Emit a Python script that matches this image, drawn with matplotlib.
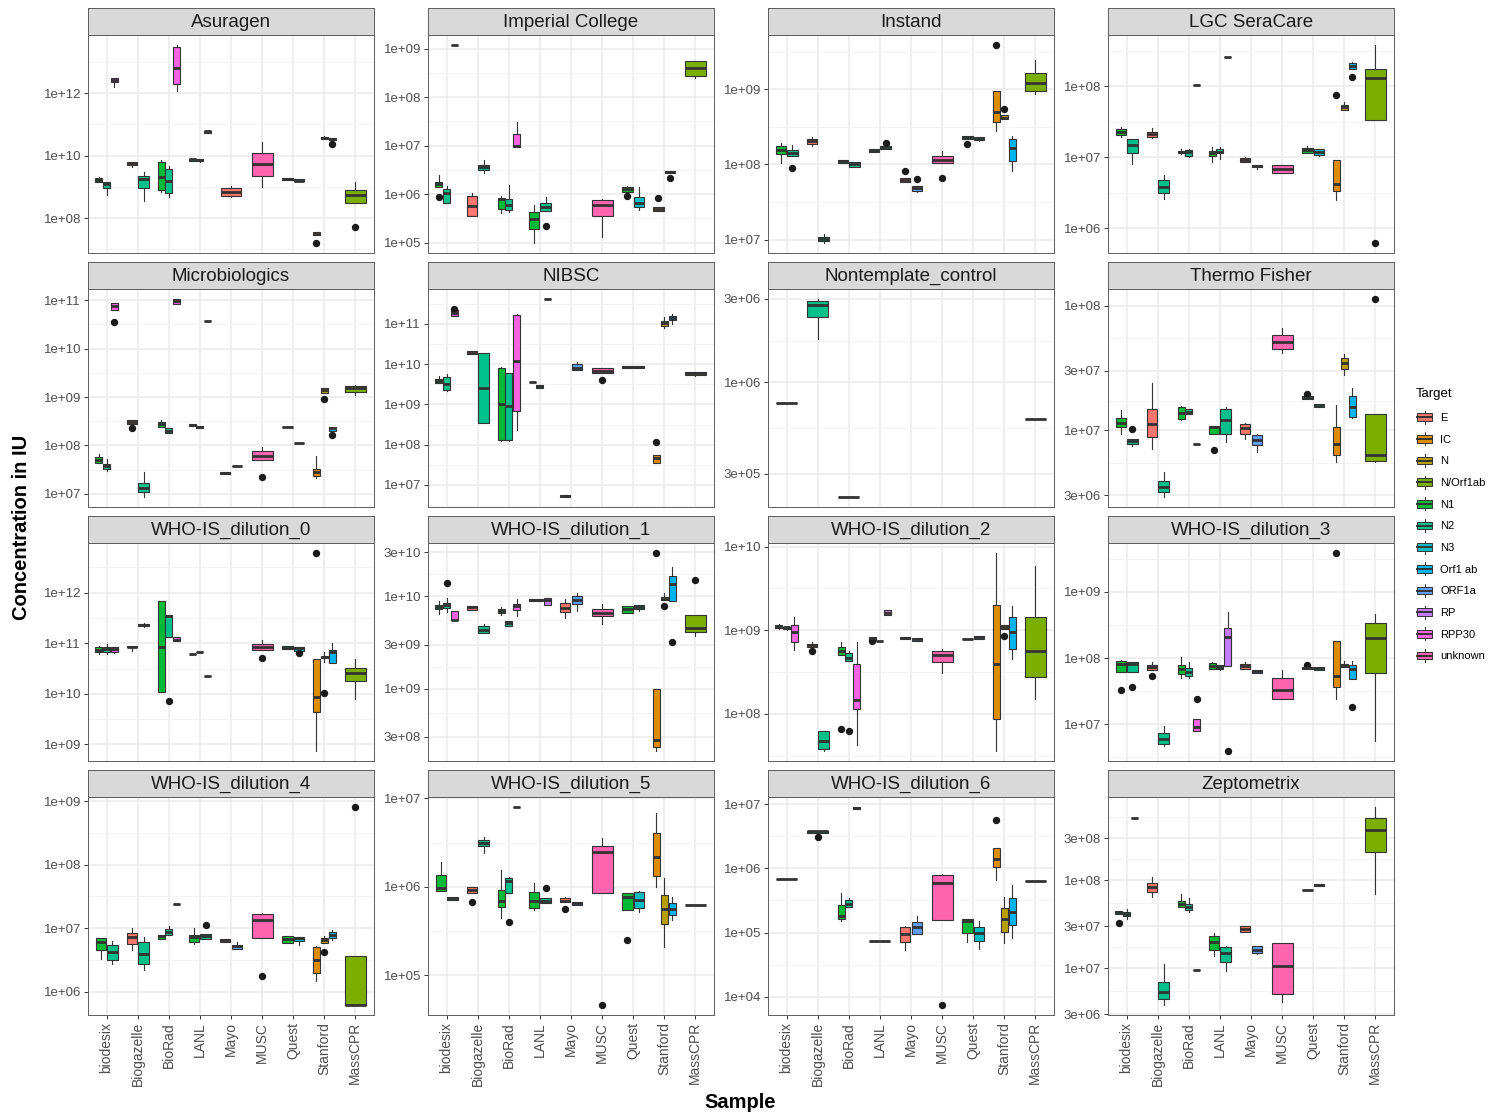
import numpy as np
import matplotlib
matplotlib.use("Agg")
import matplotlib.pyplot as plt
from matplotlib.patches import Rectangle, Patch
from matplotlib.lines import Line2D
from matplotlib.legend_handler import HandlerBase
from matplotlib.ticker import NullFormatter

plt.rcParams['font.family'] = ['Liberation Sans', 'DejaVu Sans']

SAMPLES = ["biodesix", "Biogazelle", "BioRad", "LANL", "Mayo", "MUSC", "Quest", "Stanford", "MassCPR"]
TARGETS = ["E", "IC", "N", "N/Orf1ab", "N1", "N2", "N3", "Orf1 ab", "ORF1a", "RP", "RPP30", "unknown"]
TARGET_COLORS = ["#F8766D", "#DE8C00", "#B79F00", "#7CAE00", "#00BA38", "#00C08B",
                 "#00BFC4", "#00B4F0", "#619CFF", "#C77CFF", "#F564E3", "#FF64B0"]

PANEL_TITLES = ["Asuragen", "Imperial College", "Instand", "LGC SeraCare",
                "Microbiologics", "NIBSC", "Nontemplate_control", "Thermo Fisher",
                "WHO-IS_dilution_0", "WHO-IS_dilution_1", "WHO-IS_dilution_2", "WHO-IS_dilution_3",
                "WHO-IS_dilution_4", "WHO-IS_dilution_5", "WHO-IS_dilution_6", "Zeptometrix"]

PANEL_TICKS = [
    [1e8, 1e10, 1e12],
    [1e5, 1e6, 1e7, 1e8, 1e9],
    [1e7, 1e8, 1e9],
    [1e6, 1e7, 1e8],
    [1e7, 1e8, 1e9, 1e10, 1e11],
    [1e7, 1e8, 1e9, 1e10, 1e11],
    [3e5, 1e6, 3e6],
    [3e6, 1e7, 3e7, 1e8],
    [1e9, 1e10, 1e11, 1e12],
    [3e8, 1e9, 3e9, 1e10, 3e10],
    [1e8, 1e9, 1e10],
    [1e7, 1e8, 1e9],
    [1e6, 1e7, 1e8, 1e9],
    [1e5, 1e6, 1e7],
    [1e4, 1e5, 1e6, 1e7],
    [3e6, 1e7, 3e7, 1e8, 3e8],
]

# (sample, target, whisker_low, q1, median, q3, whisker_high, outliers)
ASURAGEN = [
    ("biodesix", "N1", 1.48e9, 1.48e9, 1.7e9, 1.95e9, 2.1e9, []),
    ("biodesix", "N2", 5.5e8, 9.5e8, 1.26e9, 1.48e9, 1.48e9, []),
    ("biodesix", "RPP30", 1.6e12, 2.2e12, 2.6e12, 3.1e12, 3.1e12, []),
    ("Biogazelle", "E", 4.3e9, 5.1e9, 5.7e9, 6.2e9, 6.2e9, []),
    ("Biogazelle", "N2", 3.5e8, 9.3e8, 1.8e9, 2.3e9, 2.9e9, []),
    ("BioRad", "N1", 6.7e8, 8.2e8, 2.1e9, 6.1e9, 7.4e9, []),
    ("BioRad", "N2", 4.7e8, 6.3e8, 1.6e9, 3.7e9, 4.6e9, []),
    ("BioRad", "RPP30", 1.2e12, 1.9e12, 6.6e12, 3.1e13, 3.5e13, []),
    ("LANL", "N1", 6.9e9, 6.9e9, 7.6e9, 8.1e9, 8.1e9, []),
    ("LANL", "N2", 6.5e9, 6.9e9, 7.2e9, 8.1e9, 8.1e9, []),
    ("LANL", "RP", 5.5e10, 5.5e10, 6e10, 6.3e10, 6.3e10, []),
    ("Mayo", "E", 4.6e8, 5e8, 7e8, 9.1e8, 1.1e9, []),
    ("MUSC", "unknown", 1e9, 2.3e9, 5.4e9, 1.2e10, 2.7e10, []),
    ("Quest", "N1", 1.67e9, 1.67e9, 1.85e9, 2e9, 2e9, []),
    ("Quest", "N3", 1.5e9, 1.5e9, 1.6e9, 1.8e9, 1.8e9, []),
    ("Stanford", "IC", 2.8e7, 2.8e7, 3.2e7, 3.5e7, 3.5e7, [1.6e7]),
    ("Stanford", "N", 3.4e10, 3.4e10, 3.7e10, 4e10, 4.2e10, []),
    ("Stanford", "Orf1 ab", 3.1e10, 3.1e10, 3.4e10, 3.6e10, 3.6e10, [2.4e10]),
    ("MassCPR", "N/Orf1ab", 3e8, 3e8, 5.5e8, 7.9e8, 1.4e9, [5.4e7]),
]

IMPERIAL = [
    ("biodesix", "N1", 1.4e6, 1.4e6, 1.6e6, 1.8e6, 2.5e6, [8.9e5]),
    ("biodesix", "N2", 6.7e5, 6.7e5, 1.05e6, 1.3e6, 1.45e6, []),
    ("biodesix", "RPP30", 1.2e9, 1.2e9, 1.2e9, 1.2e9, 1.2e9, []),
    ("Biogazelle", "E", 3.6e5, 3.6e5, 5.8e5, 9.1e5, 1.07e6, []),
    ("Biogazelle", "N2", 2.7e6, 3.2e6, 3.6e6, 4e6, 5.1e6, []),
    ("BioRad", "N1", 4.1e5, 4.9e5, 7.8e5, 8.5e5, 9.1e5, []),
    ("BioRad", "N2", 4.3e5, 4.7e5, 6e5, 7.9e5, 1.55e6, []),
    ("BioRad", "RPP30", 9.6e6, 9.6e6, 9.8e6, 1.74e7, 3.1e7, []),
    ("LANL", "N1", 9.8e4, 1.9e5, 3.1e5, 4.2e5, 6e5, []),
    ("LANL", "N2", 4.5e5, 4.5e5, 5.5e5, 6.5e5, 8.9e5, [2.2e5]),
    ("MUSC", "unknown", 1.3e5, 3.5e5, 6e5, 7.6e5, 8e5, []),
    ("Quest", "N1", 1.13e6, 1.13e6, 1.26e6, 1.38e6, 1.5e6, [9e5]),
    ("Quest", "N3", 4.7e5, 5.4e5, 6.7e5, 8.7e5, 1.4e6, []),
    ("Stanford", "IC", 4.4e5, 4.4e5, 5e5, 5.5e5, 5.5e5, [8.2e5]),
    ("Stanford", "N", 2.7e6, 2.7e6, 2.9e6, 3e6, 3e6, [2.2e6]),
    ("MassCPR", "N/Orf1ab", 2.5e8, 2.8e8, 4e8, 5.5e8, 5.5e8, []),
]

INSTAND = [
    ("biodesix", "N1", 1.05e8, 1.37e8, 1.56e8, 1.78e8, 1.96e8, []),
    ("biodesix", "N2", 1.3e8, 1.3e8, 1.44e8, 1.56e8, 1.8e8, [9e7]),
    ("Biogazelle", "E", 1.75e8, 1.86e8, 2.05e8, 2.2e8, 2.3e8, []),
    ("Biogazelle", "N2", 9e6, 9.6e6, 1.02e7, 1.1e7, 1.18e7, []),
    ("BioRad", "N1", 1.04e8, 1.04e8, 1.1e8, 1.15e8, 1.15e8, []),
    ("BioRad", "N2", 9.2e7, 9.2e7, 1e8, 1.07e8, 1.07e8, []),
    ("LANL", "N1", 1.48e8, 1.48e8, 1.53e8, 1.6e8, 1.6e8, []),
    ("LANL", "N2", 1.6e8, 1.6e8, 1.68e8, 1.78e8, 1.78e8, [1.96e8]),
    ("Mayo", "E", 5.9e7, 5.9e7, 6.3e7, 6.7e7, 6.7e7, [8.2e7]),
    ("Mayo", "ORF1a", 4.3e7, 4.5e7, 4.9e7, 5.2e7, 5.2e7, [6.4e7]),
    ("MUSC", "unknown", 1.05e8, 1.05e8, 1.15e8, 1.31e8, 1.49e8, [6.6e7]),
    ("Quest", "N1", 2.2e8, 2.2e8, 2.35e8, 2.4e8, 2.4e8, [1.88e8]),
    ("Quest", "N3", 2.05e8, 2.1e8, 2.2e8, 2.3e8, 2.3e8, []),
    ("Stanford", "IC", 2.75e8, 3.7e8, 5e8, 9.6e8, 9.6e8, [3.9e9]),
    ("Stanford", "N", 4e8, 4e8, 4.2e8, 4.6e8, 4.6e8, [5.4e8]),
    ("Stanford", "Orf1 ab", 8.1e7, 1.1e8, 1.65e8, 2.2e8, 2.4e8, []),
    ("MassCPR", "N/Orf1ab", 8.6e8, 9.6e8, 1.2e9, 1.66e9, 2.45e9, []),
]

LGC_SERACARE = [
    ("biodesix", "N1", 1.95e7, 2.05e7, 2.3e7, 2.5e7, 2.65e7, []),
    ("biodesix", "N2", 8e6, 1.14e7, 1.48e7, 1.8e7, 1.8e7, []),
    ("Biogazelle", "E", 1.85e7, 1.9e7, 2.1e7, 2.3e7, 2.6e7, []),
    ("Biogazelle", "N2", 2.6e6, 3.1e6, 3.8e6, 4.8e6, 5.6e6, []),
    ("BioRad", "N1", 1.1e7, 1.14e7, 1.18e7, 1.23e7, 1.3e7, []),
    ("BioRad", "N2", 1e7, 1.05e7, 1.18e7, 1.26e7, 1.32e7, []),
    ("BioRad", "RPP30", 1.05e8, 1.05e8, 1.05e8, 1.05e8, 1.05e8, []),
    ("LANL", "N1", 8.7e6, 1.05e7, 1.14e7, 1.23e7, 1.38e7, []),
    ("LANL", "N2", 9.5e6, 1.14e7, 1.2e7, 1.29e7, 1.38e7, []),
    ("LANL", "RP", 2.6e8, 2.6e8, 2.6e8, 2.6e8, 2.6e8, []),
    ("Mayo", "E", 8.7e6, 8.7e6, 9.2e6, 9.7e6, 1.02e7, []),
    ("Mayo", "ORF1a", 6.8e6, 7.2e6, 7.6e6, 7.9e6, 7.9e6, []),
    ("MUSC", "unknown", 6e6, 6e6, 6.8e6, 7.8e6, 7.8e6, []),
    ("Quest", "N1", 1.14e7, 1.14e7, 1.26e7, 1.37e7, 1.45e7, []),
    ("Quest", "N3", 1.05e7, 1.07e7, 1.2e7, 1.32e7, 1.32e7, []),
    ("Stanford", "IC", 2.5e6, 3.3e6, 4.2e6, 9.1e6, 9.1e6, [7.5e7]),
    ("Stanford", "N", 4.6e7, 4.6e7, 5.1e7, 5.5e7, 5.9e7, []),
    ("Stanford", "Orf1 ab", 1.77e8, 1.77e8, 1.9e8, 2.1e8, 2.2e8, [1.34e8]),
    ("MassCPR", "N/Orf1ab", 3.3e7, 3.3e7, 1.31e8, 1.77e8, 3.8e8, [6.2e5]),
]

MICROBIOLOGICS = [
    ("biodesix", "N1", 4.4e7, 4.4e7, 5e7, 5.7e7, 6.7e7, []),
    ("biodesix", "N2", 3e7, 3.2e7, 3.7e7, 4.2e7, 5.2e7, []),
    ("biodesix", "RPP30", 6.4e10, 6.4e10, 7.5e10, 8.8e10, 8.8e10, [3.5e10]),
    ("Biogazelle", "E", 2.7e8, 2.7e8, 3e8, 3.3e8, 3.3e8, [2.3e8]),
    ("Biogazelle", "N2", 8.5e6, 1.07e7, 1.3e7, 1.67e7, 2.8e7, []),
    ("BioRad", "N1", 2.45e8, 2.45e8, 2.7e8, 3e8, 3.3e8, []),
    ("BioRad", "N2", 1.8e8, 1.8e8, 2e8, 2.3e8, 2.3e8, []),
    ("BioRad", "RPP30", 8.5e10, 8.5e10, 9.5e10, 1.07e11, 1.07e11, []),
    ("LANL", "N1", 2.5e8, 2.5e8, 2.6e8, 2.8e8, 2.8e8, []),
    ("LANL", "N2", 2.3e8, 2.3e8, 2.4e8, 2.5e8, 2.5e8, []),
    ("LANL", "RP", 3.7e10, 3.7e10, 3.7e10, 3.7e10, 3.7e10, []),
    ("Mayo", "E", 2.5e7, 2.5e7, 2.7e7, 2.8e7, 2.8e7, []),
    ("Mayo", "ORF1a", 3.8e7, 3.8e7, 3.8e7, 3.8e7, 3.8e7, []),
    ("MUSC", "unknown", 4.9e7, 4.9e7, 6.1e7, 7.5e7, 9.3e7, [2.2e7]),
    ("Quest", "N1", 2.4e8, 2.4e8, 2.4e8, 2.4e8, 2.4e8, []),
    ("Quest", "N3", 1.12e8, 1.12e8, 1.12e8, 1.12e8, 1.12e8, []),
    ("Stanford", "IC", 2.1e7, 2.3e7, 2.8e7, 3.3e7, 5.9e7, []),
    ("Stanford", "N", 1.2e9, 1.2e9, 1.38e9, 1.5e9, 1.5e9, [9.3e8]),
    ("Stanford", "Orf1 ab", 2e8, 2e8, 2.3e8, 2.4e8, 2.4e8, [1.66e8]),
    ("MassCPR", "N/Orf1ab", 1.1e9, 1.26e9, 1.5e9, 1.66e9, 1.75e9, []),
]

NIBSC = [
    ("biodesix", "N1", 3.5e9, 3.5e9, 3.9e9, 4.3e9, 5e9, []),
    ("biodesix", "N2", 2.2e9, 2.3e9, 3.2e9, 4.7e9, 5.7e9, []),
    ("biodesix", "RPP30", 1.6e11, 1.6e11, 1.85e11, 2.2e11, 2.2e11, [2.4e11]),
    ("Biogazelle", "E", 1.75e10, 1.75e10, 1.9e10, 2.1e10, 2.1e10, []),
    ("Biogazelle", "N2", 3.5e8, 3.5e8, 2.6e9, 1.9e10, 1.9e10, []),
    ("BioRad", "N1", 1.25e8, 1.34e8, 1.05e9, 8.1e9, 8.3e9, []),
    ("BioRad", "N2", 1.25e8, 1.3e8, 9e8, 5.9e9, 5.9e9, []),
    ("BioRad", "RPP30", 2.3e8, 7e8, 1.17e10, 1.7e11, 1.75e11, []),
    ("LANL", "N1", 3.7e9, 3.7e9, 3.7e9, 3.7e9, 3.7e9, []),
    ("LANL", "N2", 2.6e9, 2.6e9, 2.8e9, 3.1e9, 3.1e9, []),
    ("LANL", "RP", 4.2e11, 4.2e11, 4.2e11, 4.2e11, 4.2e11, []),
    ("Mayo", "E", 5e6, 5e6, 5.2e6, 5.5e6, 5.5e6, []),
    ("Mayo", "ORF1a", 7.4e9, 7.4e9, 8.1e9, 1e10, 1.15e10, []),
    ("MUSC", "unknown", 6e9, 6e9, 6.9e9, 7.9e9, 7.9e9, [4.1e9]),
    ("Quest", "N1", 7.9e9, 7.9e9, 8.6e9, 9.3e9, 9.3e9, []),
    ("Quest", "N3", 8e9, 8e9, 8.6e9, 9.3e9, 9.3e9, []),
    ("Stanford", "IC", 3.6e7, 3.6e7, 4.7e7, 5.5e7, 5.5e7, [1.2e8]),
    ("Stanford", "N", 7.8e10, 8.9e10, 1.04e11, 1.2e11, 1.45e11, []),
    ("Stanford", "Orf1 ab", 1e11, 1.26e11, 1.44e11, 1.6e11, 1.8e11, []),
    ("MassCPR", "N/Orf1ab", 5e9, 5.5e9, 6e9, 6.6e9, 6.6e9, []),
]

NONTEMPLATE_CONTROL = [
    ("biodesix", "N1", 7.6e5, 7.6e5, 7.6e5, 7.6e5, 7.6e5, []),
    ("Biogazelle", "N2", 1.78e6, 2.37e6, 2.77e6, 2.9e6, 3e6, []),
    ("BioRad", "N1", 2.2e5, 2.2e5, 2.2e5, 2.2e5, 2.2e5, []),
    ("MassCPR", "N/Orf1ab", 6.2e5, 6.2e5, 6.2e5, 6.2e5, 6.2e5, []),
]

THERMO_FISHER = [
    ("biodesix", "N1", 9.4e6, 1.07e7, 1.15e7, 1.26e7, 1.45e7, []),
    ("biodesix", "N2", 7.5e6, 7.8e6, 8.2e6, 8.5e6, 8.5e6, [1.02e7]),
    ("Biogazelle", "E", 7.1e6, 8.9e6, 1.12e7, 1.48e7, 2.4e7, []),
    ("Biogazelle", "N2", 2.9e6, 3.2e6, 3.5e6, 3.9e6, 4.6e6, []),
    ("BioRad", "N1", 1.2e7, 1.23e7, 1.38e7, 1.54e7, 1.58e7, []),
    ("BioRad", "N2", 1.35e7, 1.35e7, 1.4e7, 1.48e7, 1.48e7, []),
    ("BioRad", "RPP30", 7.8e6, 7.8e6, 7.8e6, 7.8e6, 7.8e6, []),
    ("LANL", "N1", 9.3e6, 9.3e6, 1.07e7, 1.08e7, 1.08e7, [7e6]),
    ("LANL", "N2", 8.1e6, 9.4e6, 1.2e7, 1.48e7, 1.55e7, []),
    ("Mayo", "E", 8.5e6, 9.4e6, 1.05e7, 1.12e7, 1.15e7, []),
    ("Mayo", "ORF1a", 6.7e6, 7.6e6, 8.3e6, 9.1e6, 9.3e6, []),
    ("MUSC", "unknown", 4.2e7, 4.5e7, 5.1e7, 5.8e7, 6.7e7, []),
    ("Quest", "N1", 1.78e7, 1.78e7, 1.82e7, 1.87e7, 1.87e7, [1.95e7]),
    ("Quest", "N3", 1.55e7, 1.55e7, 1.58e7, 1.62e7, 1.62e7, []),
    ("Stanford", "IC", 5.6e6, 6.3e6, 7.8e6, 1.07e7, 1.6e7, []),
    ("Stanford", "N", 2.8e7, 3.1e7, 3.5e7, 3.8e7, 4.1e7, []),
    ("Stanford", "Orf1 ab", 1.25e7, 1.28e7, 1.54e7, 1.9e7, 2.2e7, []),
    ("MassCPR", "N/Orf1ab", 5.6e6, 5.7e6, 6.3e6, 1.35e7, 1.35e7, [1.14e8]),
]

WHO_IS_0 = [
    ("biodesix", "N1", 6e10, 6.6e10, 7.4e10, 8.3e10, 9e10, []),
    ("biodesix", "N2", 6e10, 6.8e10, 7.7e10, 8.6e10, 9.5e10, []),
    ("biodesix", "RPP30", 6.5e10, 6.8e10, 7.6e10, 8.3e10, 8.3e10, []),
    ("Biogazelle", "E", 7.1e10, 8.3e10, 8.6e10, 8.9e10, 8.9e10, []),
    ("Biogazelle", "N2", 2.1e11, 2.15e11, 2.25e11, 2.35e11, 2.5e11, []),
    ("BioRad", "N1", 1.1e10, 1.1e10, 8.6e10, 6.7e11, 6.7e11, []),
    ("BioRad", "N2", 1.3e11, 1.3e11, 3.4e11, 3.6e11, 3.6e11, [7.2e9]),
    ("BioRad", "RPP30", 1.12e11, 1.12e11, 1.17e11, 1.3e11, 1.3e11, []),
    ("LANL", "N1", 6.2e10, 6.2e10, 6.2e10, 6.2e10, 6.2e10, []),
    ("LANL", "N2", 6.6e10, 6.6e10, 6.6e10, 6.6e10, 6.6e10, []),
    ("LANL", "RP", 2.3e10, 2.3e10, 2.3e10, 2.3e10, 2.3e10, []),
    ("MUSC", "unknown", 7.4e10, 7.4e10, 8.3e10, 9.6e10, 1.17e11, [5e10]),
    ("Quest", "N1", 7.7e10, 7.7e10, 8.2e10, 8.7e10, 8.7e10, []),
    ("Quest", "N3", 7.1e10, 7.1e10, 7.9e10, 8.3e10, 8.3e10, [6.3e10]),
    ("Stanford", "IC", 7.4e8, 4.4e9, 8.7e9, 4.8e10, 4.8e10, [6.1e12]),
    ("Stanford", "N", 4.3e10, 5e10, 5.3e10, 5.7e10, 6.6e10, [1.05e10]),
    ("Stanford", "Orf1 ab", 4.1e10, 4.1e10, 6.7e10, 7.4e10, 1e11, []),
    ("MassCPR", "N/Orf1ab", 7.8e9, 1.8e10, 2.6e10, 3.3e10, 4.8e10, []),
]

WHO_IS_1 = [
    ("biodesix", "N1", 6.4e9, 7.3e9, 7.6e9, 8.1e9, 8.8e9, []),
    ("biodesix", "N2", 6.8e9, 7.4e9, 8e9, 8.5e9, 9.5e9, [1.4e10]),
    ("biodesix", "RPP30", 5.5e9, 5.5e9, 5.6e9, 7e9, 7e9, []),
    ("Biogazelle", "E", 7.1e9, 7.1e9, 7.6e9, 7.9e9, 7.9e9, []),
    ("Biogazelle", "N2", 4e9, 4e9, 4.3e9, 4.8e9, 5e9, []),
    ("BioRad", "N1", 6.3e9, 6.6e9, 7e9, 7.3e9, 7.7e9, []),
    ("BioRad", "N2", 4.8e9, 4.8e9, 5.1e9, 5.4e9, 5.4e9, []),
    ("BioRad", "RPP30", 6.2e9, 7.1e9, 7.8e9, 8.2e9, 9.4e9, []),
    ("LANL", "N1", 8.8e9, 8.8e9, 9.1e9, 9.3e9, 9.3e9, []),
    ("LANL", "N2", 8.8e9, 8.8e9, 9.1e9, 9.3e9, 9.3e9, []),
    ("LANL", "RP", 8.1e9, 8.1e9, 9.1e9, 9.6e9, 9.6e9, []),
    ("Mayo", "E", 5.9e9, 6.7e9, 7.5e9, 8.5e9, 9.4e9, []),
    ("Mayo", "ORF1a", 7e9, 8.3e9, 9.2e9, 1e10, 1.1e10, []),
    ("MUSC", "unknown", 5e9, 6.1e9, 6.6e9, 7.3e9, 8.3e9, []),
    ("Quest", "N1", 6.6e9, 6.6e9, 7.3e9, 7.8e9, 7.8e9, []),
    ("Quest", "N3", 7e9, 7.3e9, 7.6e9, 8.1e9, 8.1e9, []),
    ("Stanford", "IC", 2.1e8, 2.3e8, 2.75e8, 1e9, 1e9, [2.96e10]),
    ("Stanford", "N", 9.1e9, 9.1e9, 9.4e9, 9.8e9, 1.08e10, [7.8e9]),
    ("Stanford", "Orf1 ab", 8.8e9, 8.8e9, 1.37e10, 1.65e10, 2.1e10, [3.2e9]),
    ("MassCPR", "N/Orf1ab", 3.7e9, 4.1e9, 4.5e9, 6.3e9, 6.3e9, [1.5e10]),
]

WHO_IS_2 = [
    ("biodesix", "N1", 1.03e9, 1.07e9, 1.1e9, 1.17e9, 1.2e9, []),
    ("biodesix", "N2", 1e9, 1.04e9, 1.08e9, 1.1e9, 1.1e9, []),
    ("biodesix", "RPP30", 5.8e8, 7.3e8, 9.5e8, 1.17e9, 1.44e9, []),
    ("Biogazelle", "E", 6.3e8, 6.3e8, 6.6e8, 6.9e8, 7.3e8, [5.7e8]),
    ("Biogazelle", "N2", 3.6e7, 3.8e7, 4.8e7, 6.2e7, 6.3e7, []),
    ("BioRad", "N1", 5e8, 5e8, 5.6e8, 6.3e8, 7.2e8, [6.6e7]),
    ("BioRad", "N2", 4.3e8, 4.3e8, 4.6e8, 5.3e8, 5.6e8, [6.3e7]),
    ("BioRad", "RPP30", 4.2e7, 1.15e8, 1.45e8, 4e8, 7.2e8, []),
    ("LANL", "N1", 7.7e8, 7.7e8, 8e8, 8.3e8, 8.3e8, [7.4e8]),
    ("LANL", "N2", 7.5e8, 7.5e8, 7.5e8, 7.5e8, 7.5e8, []),
    ("LANL", "RP", 1.54e9, 1.54e9, 1.63e9, 1.73e9, 1.73e9, []),
    ("Mayo", "E", 7.8e8, 7.8e8, 8e8, 8.2e8, 8.2e8, []),
    ("Mayo", "ORF1a", 7.5e8, 7.5e8, 7.8e8, 8e8, 8e8, []),
    ("MUSC", "unknown", 3.1e8, 4.2e8, 5e8, 5.6e8, 6e8, []),
    ("Quest", "N1", 7.8e8, 7.8e8, 7.8e8, 7.8e8, 7.8e8, []),
    ("Quest", "N3", 7.9e8, 7.9e8, 8.2e8, 8.5e8, 8.5e8, []),
    ("Stanford", "IC", 3.6e7, 8.7e7, 3.9e8, 2e9, 8.4e9, []),
    ("Stanford", "N", 1.04e9, 1.04e9, 1.1e9, 1.17e9, 1.17e9, [8.5e8]),
    ("Stanford", "Orf1 ab", 4.5e8, 5.9e8, 9.5e8, 1.44e9, 1.94e9, []),
    ("MassCPR", "N/Orf1ab", 1.5e8, 2.8e8, 5.6e8, 1.44e9, 5.8e9, []),
]

WHO_IS_3 = [
    ("biodesix", "N1", 6.2e7, 6.2e7, 8.1e7, 9.1e7, 9.4e7, [3.3e7]),
    ("biodesix", "N2", 6.2e7, 6.2e7, 8.1e7, 8.6e7, 8.6e7, [3.6e7]),
    ("Biogazelle", "E", 6.6e7, 6.6e7, 7.2e7, 7.9e7, 8.8e7, [5.4e7]),
    ("Biogazelle", "N2", 4.7e6, 5e6, 6e6, 7.3e6, 9.3e6, []),
    ("BioRad", "N1", 5e7, 5.8e7, 6.9e7, 7.8e7, 1.02e8, []),
    ("BioRad", "N2", 4.9e7, 5.4e7, 6.2e7, 7e7, 8.7e7, []),
    ("BioRad", "RPP30", 7.8e6, 7.8e6, 8.9e6, 1.2e7, 1.2e7, [2.4e7]),
    ("LANL", "N1", 6.9e7, 6.9e7, 7.6e7, 8.3e7, 8.6e7, []),
    ("LANL", "N2", 6.5e7, 6.8e7, 7.2e7, 7.8e7, 7.8e7, []),
    ("LANL", "RP", 7.5e7, 7.5e7, 2.1e8, 2.8e8, 5e8, [3.9e6]),
    ("Mayo", "E", 6.9e7, 6.9e7, 7.6e7, 8.2e7, 8.8e7, []),
    ("Mayo", "ORF1a", 5.9e7, 5.9e7, 6.3e7, 6.6e7, 6.6e7, []),
    ("MUSC", "unknown", 2.4e7, 2.4e7, 3.3e7, 4.9e7, 6.5e7, []),
    ("Quest", "N1", 6.8e7, 6.8e7, 7e7, 7.4e7, 7.4e7, [7.8e7]),
    ("Quest", "N3", 6.6e7, 6.6e7, 7e7, 7.2e7, 7.2e7, []),
    ("Stanford", "IC", 2.4e7, 3.6e7, 5.4e7, 1.8e8, 1.8e8, [3.9e9]),
    ("Stanford", "N", 7.2e7, 7.2e7, 7.6e7, 8.1e7, 9e7, []),
    ("Stanford", "Orf1 ab", 4.8e7, 4.8e7, 6.8e7, 7.8e7, 9e7, [1.8e7]),
    ("MassCPR", "N/Orf1ab", 5.6e6, 5.9e7, 2e8, 3.4e8, 4.6e8, []),
]

WHO_IS_4 = [
    ("biodesix", "N1", 3.3e6, 4.6e6, 6e6, 7.1e6, 7.1e6, []),
    ("biodesix", "N2", 2.7e6, 3.2e6, 4.2e6, 5.5e6, 6.3e6, []),
    ("Biogazelle", "E", 4.5e6, 5.6e6, 7.2e6, 8.3e6, 1.02e7, []),
    ("Biogazelle", "N2", 2.2e6, 2.7e6, 4e6, 6e6, 7.4e6, []),
    ("BioRad", "N1", 6.9e6, 6.9e6, 7.5e6, 7.9e6, 7.9e6, []),
    ("BioRad", "N2", 7.9e6, 7.9e6, 8.7e6, 9.6e6, 1.07e7, []),
    ("BioRad", "RPP30", 2.4e7, 2.4e7, 2.4e7, 2.4e7, 2.4e7, []),
    ("LANL", "N1", 5.6e6, 6e6, 7.2e6, 7.9e6, 1e7, []),
    ("LANL", "N2", 6.9e6, 6.9e6, 7.6e6, 8.2e6, 8.2e6, [1.12e7]),
    ("Mayo", "E", 6e6, 6e6, 6.5e6, 6.9e6, 6.9e6, []),
    ("Mayo", "ORF1a", 4.7e6, 4.7e6, 5.2e6, 5.5e6, 6e6, []),
    ("MUSC", "unknown", 7.1e6, 7.1e6, 1.35e7, 1.66e7, 1.75e7, [1.8e6]),
    ("Quest", "N1", 5.9e6, 5.9e6, 6.7e6, 7.6e6, 7.6e6, []),
    ("Quest", "N3", 5.5e6, 6.4e6, 7e6, 7.4e6, 7.4e6, []),
    ("Stanford", "IC", 1.5e6, 1.95e6, 3.2e6, 5e6, 5.2e6, []),
    ("Stanford", "N", 5.9e6, 5.9e6, 6.5e6, 7.1e6, 7.5e6, [4.3e6]),
    ("Stanford", "Orf1 ab", 6.5e6, 7.1e6, 7.9e6, 8.7e6, 9.3e6, []),
    ("MassCPR", "N/Orf1ab", 6.2e5, 6.2e5, 6.3e5, 3.7e6, 3.7e6, [8.1e8]),
]

WHO_IS_5 = [
    ("biodesix", "N1", 8.9e5, 8.9e5, 9.7e5, 1.35e6, 1.9e6, []),
    ("biodesix", "N2", 7.1e5, 7.1e5, 7.4e5, 7.7e5, 7.7e5, []),
    ("Biogazelle", "E", 8.4e5, 8.4e5, 9.3e5, 9.9e5, 9.9e5, [6.7e5]),
    ("Biogazelle", "N2", 2.4e6, 2.9e6, 3.1e6, 3.4e6, 3.7e6, []),
    ("BioRad", "N1", 4.4e5, 5.9e5, 6.9e5, 9.1e5, 1.55e6, []),
    ("BioRad", "N2", 8.4e5, 8.4e5, 1.17e6, 1.26e6, 1.3e6, [4e5]),
    ("BioRad", "RPP30", 8e6, 8e6, 8e6, 8e6, 8e6, []),
    ("LANL", "N1", 5.5e5, 5.8e5, 6.9e5, 8.7e5, 1.1e6, []),
    ("LANL", "N2", 6.5e5, 6.5e5, 6.9e5, 7.5e5, 7.5e5, [9.6e5]),
    ("Mayo", "E", 6.7e5, 6.7e5, 7e5, 7.4e5, 7.7e5, [5.6e5]),
    ("Mayo", "ORF1a", 6.2e5, 6.2e5, 6.5e5, 6.7e5, 6.7e5, []),
    ("MUSC", "unknown", 8.4e5, 8.4e5, 2.45e6, 2.9e6, 3.6e6, [4.6e4]),
    ("Quest", "N1", 5.5e5, 5.5e5, 7.6e5, 8.5e5, 8.5e5, [2.5e5]),
    ("Quest", "N3", 5.2e5, 5.7e5, 7.1e5, 8.7e5, 8.9e5, []),
    ("Stanford", "IC", 1e6, 1.32e6, 2.2e6, 4.1e6, 6.9e6, []),
    ("Stanford", "N", 2.1e5, 3.8e5, 5.6e5, 8e5, 1.26e6, []),
    ("Stanford", "Orf1 ab", 4.2e5, 4.8e5, 5.6e5, 6.6e5, 7.6e5, []),
    ("MassCPR", "N/Orf1ab", 6.2e5, 6.2e5, 6.2e5, 6.2e5, 6.2e5, []),
]

WHO_IS_6 = [
    ("biodesix", "N1", 6.9e5, 6.9e5, 6.9e5, 6.9e5, 6.9e5, []),
    ("Biogazelle", "N2", 3.6e6, 3.6e6, 3.8e6, 3.9e6, 3.9e6, [3.1e6]),
    ("BioRad", "N1", 1.5e5, 1.6e5, 1.8e5, 2.7e5, 4.1e5, []),
    ("BioRad", "N2", 2.5e5, 2.5e5, 2.8e5, 3.2e5, 3.5e5, []),
    ("BioRad", "RPP30", 8.3e6, 8.3e6, 8.7e6, 9.1e6, 9.1e6, []),
    ("LANL", "N1", 7.4e4, 7.4e4, 7.4e4, 7.4e4, 7.4e4, []),
    ("Mayo", "E", 5.4e4, 7.1e4, 9.5e4, 1.2e5, 1.25e5, []),
    ("Mayo", "ORF1a", 9.5e4, 9.5e4, 1.2e5, 1.44e5, 1.8e5, []),
    ("MUSC", "unknown", 1.58e5, 1.58e5, 5.9e5, 8e5, 8.3e5, [7.4e3]),
    ("Quest", "N1", 7e4, 1e5, 1.5e5, 1.6e5, 1.6e5, []),
    ("Quest", "N3", 5.6e4, 7.4e4, 1e5, 1.24e5, 1.5e5, []),
    ("Stanford", "IC", 6.6e5, 1.07e6, 1.38e6, 2.1e6, 2.1e6, [5.6e6]),
    ("Stanford", "N", 6.9e4, 1.02e5, 1.6e5, 2.4e5, 3.6e5, []),
    ("Stanford", "Orf1 ab", 8.1e4, 1.3e5, 2.1e5, 3.5e5, 5.5e5, []),
    ("MassCPR", "N/Orf1ab", 6.3e5, 6.3e5, 6.3e5, 6.3e5, 6.3e5, []),
]

ZEPTOMETRIX = [
    ("biodesix", "N1", 4.1e7, 4.1e7, 4.3e7, 4.45e7, 4.45e7, [3.3e7]),
    ("biodesix", "N2", 3.6e7, 3.9e7, 4.1e7, 4.4e7, 4.7e7, []),
    ("biodesix", "RPP30", 5.1e8, 5.1e8, 5.1e8, 5.1e8, 5.1e8, []),
    ("Biogazelle", "E", 6.5e7, 7.4e7, 8.4e7, 9.3e7, 1.09e8, []),
    ("Biogazelle", "N2", 3.8e6, 4.5e6, 5.3e6, 6.9e6, 1.1e7, []),
    ("BioRad", "N1", 5e7, 5e7, 5.3e7, 5.8e7, 6.9e7, []),
    ("BioRad", "N2", 4.4e7, 4.6e7, 4.9e7, 5.3e7, 6.3e7, []),
    ("BioRad", "RPP30", 9.6e6, 9.6e6, 9.6e6, 9.6e6, 9.6e6, []),
    ("LANL", "N1", 1.37e7, 1.6e7, 1.97e7, 2.3e7, 2.5e7, []),
    ("LANL", "N2", 9.2e6, 1.16e7, 1.48e7, 1.73e7, 1.8e7, []),
    ("Mayo", "E", 2.6e7, 2.6e7, 2.8e7, 3e7, 3e7, []),
    ("Mayo", "ORF1a", 1.45e7, 1.49e7, 1.6e7, 1.77e7, 1.8e7, []),
    ("MUSC", "unknown", 4.1e6, 5.1e6, 1.05e7, 1.94e7, 1.94e7, []),
    ("Quest", "N1", 7.7e7, 7.7e7, 7.7e7, 7.7e7, 7.7e7, []),
    ("Quest", "N3", 8.6e7, 8.6e7, 8.8e7, 9e7, 9e7, []),
    ("MassCPR", "N/Orf1ab", 6.9e7, 2.1e8, 3.7e8, 5.1e8, 6.8e8, []),
]

PANEL_DATA = [ASURAGEN, IMPERIAL, INSTAND, LGC_SERACARE, MICROBIOLOGICS, NIBSC,
              NONTEMPLATE_CONTROL, THERMO_FISHER, WHO_IS_0, WHO_IS_1, WHO_IS_2, WHO_IS_3,
              WHO_IS_4, WHO_IS_5, WHO_IS_6, ZEPTOMETRIX]

# ---------------- layout (pixels) ----------------
W, H = 1496, 1113
COL_X = [88, 428, 768, 1108]
PANEL_W = 286
STRIP_TOP = [8, 262, 516, 770]
STRIP_H = 27
PANEL_H = 218
EDGE = "#333333"
FRAME = "#5E5E5E"
TXT = "#4D4D4D"


def fmt_sci(v):
    e = int(np.floor(np.log10(v) + 1e-9))
    m = int(round(v / 10 ** e))
    return f"{m}e+{e:02d}"


class BoxKey(HandlerBase):
    def create_artists(self, legend, orig_handle, xdescent, ydescent, width, height, fontsize, trans):
        x0, y0 = -xdescent, -ydescent
        cx = x0 + width / 2
        fc = orig_handle.get_facecolor()
        rect = Rectangle((x0 + 0.05 * width, y0 + 0.18 * height), 0.9 * width, 0.64 * height,
                         facecolor=fc, edgecolor=EDGE, linewidth=0.7, transform=trans)
        w1 = Line2D([cx, cx], [y0 - 0.05 * height, y0 + 0.18 * height], color=EDGE, lw=0.7, transform=trans)
        w2 = Line2D([cx, cx], [y0 + 0.82 * height, y0 + 1.05 * height], color=EDGE, lw=0.7, transform=trans)
        med = Line2D([x0 + 0.05 * width, x0 + 0.95 * width], [y0 + 0.5 * height] * 2,
                     color=EDGE, lw=1.4, transform=trans)
        return [rect, w1, w2, med]


fig = plt.figure(figsize=(W / 100, H / 100), dpi=100)

for idx, (title, ticks, entries) in enumerate(zip(PANEL_TITLES, PANEL_TICKS, PANEL_DATA)):
    r, c = divmod(idx, 4)
    x0 = COL_X[c]
    top = STRIP_TOP[r] + STRIP_H
    ax = fig.add_axes([x0 / W, 1 - (top + PANEL_H) / H, PANEL_W / W, PANEL_H / H])
    sax = fig.add_axes([x0 / W, 1 - top / H, PANEL_W / W, STRIP_H / H])

    # strip
    sax.set_facecolor("#D9D9D9")
    sax.set_xticks([])
    sax.set_yticks([])
    for sp in sax.spines.values():
        sp.set_color(FRAME)
        sp.set_linewidth(0.7)
    sax.text(0.5, 0.48, title, ha="center", va="center", fontsize=13.5, color="#1A1A1A",
             transform=sax.transAxes)

    # boxes
    stats, pos, wid, cols = [], [], [], []
    allvals = []
    for i, s in enumerate(SAMPLES):
        ents = sorted([e for e in entries if e[0] == s], key=lambda e: TARGETS.index(e[1]))
        n = len(ents)
        if n == 0:
            continue
        slot = 0.75 / n
        for k, e in enumerate(ents):
            pos.append(i - 0.375 + slot * (k + 0.5))
            wid.append(slot * 0.9)
            stats.append(dict(whislo=e[2], q1=e[3], med=e[4], q3=e[5], whishi=e[6], fliers=list(e[7])))
            cols.append(TARGET_COLORS[TARGETS.index(e[1])])
            allvals.extend([e[2], e[6]] + list(e[7]))

    ax.set_yscale("log")
    bp = ax.bxp(stats, positions=pos, widths=wid, patch_artist=True, showcaps=False,
                boxprops=dict(edgecolor=EDGE, linewidth=0.8),
                medianprops=dict(color=EDGE, linewidth=2.0, solid_capstyle="butt"),
                whiskerprops=dict(color=EDGE, linewidth=0.8),
                flierprops=dict(marker="o", markersize=4.3, markerfacecolor="#1A1A1A",
                                markeredgecolor="#1A1A1A"),
                manage_ticks=False)
    for p, col in zip(bp["boxes"], cols):
        p.set_facecolor(col)

    # y ticks and minor grid (midpoints in log space)
    lt = np.log10(ticks)
    d = np.diff(lt)
    minors = list((lt[:-1] + lt[1:]) / 2) + [lt[0] - d[0] / 2, lt[-1] + d[-1] / 2]
    ax.set_yticks(ticks)
    ax.set_yticklabels([fmt_sci(t) for t in ticks])
    ax.set_yticks([10 ** m for m in minors], minor=True)
    ax.yaxis.set_minor_formatter(NullFormatter())
    ax.tick_params(axis="y", which="minor", length=0)
    ax.tick_params(axis="y", which="major", length=3, width=0.7, color=EDGE,
                   labelsize=9.5, labelcolor=TXT, pad=2)

    ax.set_xticks(range(len(SAMPLES)))
    if r == 3:
        ax.set_xticklabels(SAMPLES, rotation=90, fontsize=10, color=TXT)
        ax.tick_params(axis="x", length=3, width=0.7, color=EDGE, pad=2)
    else:
        ax.set_xticklabels([])
        ax.tick_params(axis="x", length=0)

    # limits last (setting ticks may widen the view)
    lo, hi = np.log10(min(allvals)), np.log10(max(allvals))
    pad = 0.05 * (hi - lo)
    ax.set_ylim(10 ** (lo - pad), 10 ** (hi + pad))
    ax.set_xlim(-0.6, len(SAMPLES) - 0.4)

    ax.set_axisbelow(True)
    ax.grid(True, which="major", axis="both", color="#EBEBEB", linewidth=1.1)
    ax.grid(True, which="minor", axis="y", color="#F2F2F2", linewidth=0.6)
    for sp in ax.spines.values():
        sp.set_color(FRAME)
        sp.set_linewidth(0.7)

# legend
handles = [Patch(facecolor=col, label=t) for t, col in zip(TARGETS, TARGET_COLORS)]
leg = fig.legend(handles=handles, handler_map={Patch: BoxKey()}, loc="upper left",
                 bbox_to_anchor=(1416 / W, 1 - 388 / H), frameon=False, title="Target",
                 fontsize=8, title_fontsize=9.5, handlelength=1.55, handleheight=1.3,
                 labelspacing=0.86, handletextpad=0.65, borderaxespad=0, borderpad=0,
                 alignment="left")
leg._legend_box.sep = 8

fig.text(740 / W, 1 - 1102 / H, "Sample", ha="center", va="center", fontsize=14.5, fontweight="bold")
fig.text(22 / W, 1 - 527 / H, "Concentration in IU", ha="center", va="center", rotation=90,
         fontsize=14.5, fontweight="bold")

fig.savefig("out.png", dpi=100)
